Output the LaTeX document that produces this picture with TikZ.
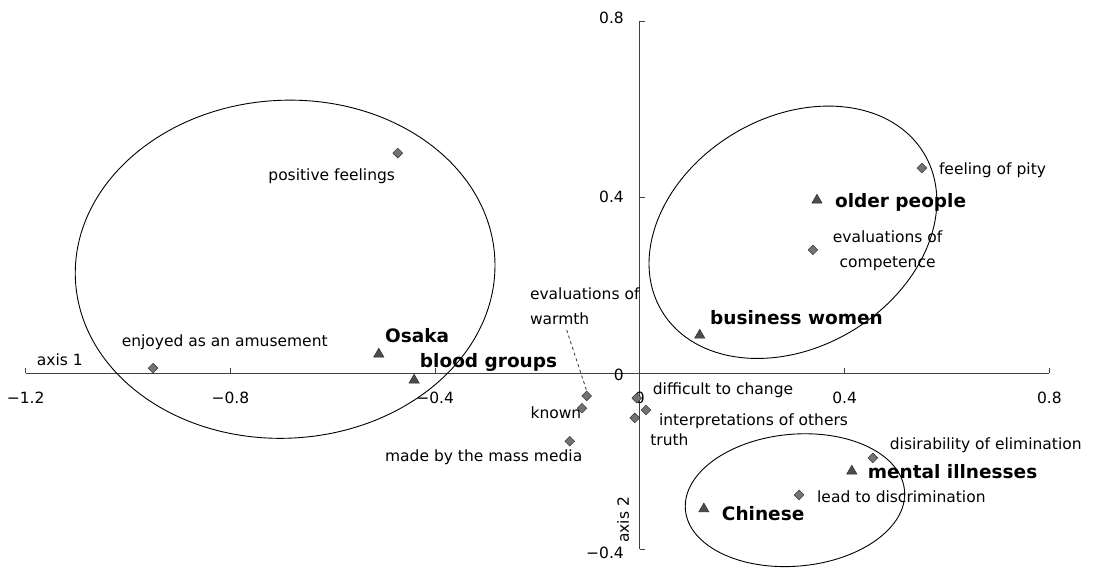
\documentclass[tikz,border=0pt]{standalone}
\usepackage{fontspec}
\setmainfont{DejaVu Sans}
\usetikzlibrary{shapes.geometric}

\begin{document}
\begin{tikzpicture}[x=512pt, y=440pt,
      axis/.style = {draw=black!75, line width=0.8pt},
      ring/.style = {draw=black, line width=0.9pt},
      item/.style = {shape=diamond, draw=black!85, fill=black!55,
        inner sep=0pt, minimum size=10pt},
      grp/.style = {shape=regular polygon, regular polygon sides=3,
        draw=black!85, fill=black!70, inner sep=0pt, minimum size=12pt},
      lbl/.style = {inner sep=0pt, font=\fontsize{15.5}{25}\selectfont},
      glbl/.style = {inner sep=0pt, anchor=west,
        font=\fontsize{18.5}{22}\selectfont\bfseries},
      num/.style = {inner sep=0pt, font=\fontsize{15.5}{18}\selectfont}]
  \useasboundingbox (-1.25,-0.457) rectangle (0.893,0.848);

  \draw[axis] (-1.2,0) -- (0.8,0);
  \draw[axis] (0,-0.4) -- (0,0.8);
  \foreach \x/\t [count=\i] in {-1.2/−1.2, -0.8/−0.8, -0.4/−0.4, 0/0, 0.4/0.4, 0.8/0.8} {
    \draw[axis] (\x,0) -- ++(0,5pt);
    \node[num] (xt\i) at (\x,-0.057) {\t};
  }
  \foreach \y/\ly/\t [count=\i] in {-0.4/-0.409/−0.4, 0/-0.005/0, 0.4/0.4/0.4, 0.8/0.807/0.8} {
    \draw[axis] (0,\y) -- ++(5pt,0);
    \node[num, anchor=east] (yt\i) at (-0.031,\ly) {\t};
  }
  \node[lbl] (ax1) at (-1.133,0.03) {axis 1};
  \node[lbl, rotate=90] (ax2) at (-0.033,-0.334) {axis 2};

  \coordinate (cleft) at (-0.693,0.236);
  \coordinate (cright) at (0.299,0.32);
  \coordinate (cbottom) at (0.303,-0.289);
  \draw[ring, rotate around={3:(cleft)}] (cleft) ellipse [x radius=210pt, y radius=169pt];
  \draw[ring, rotate around={31:(cright)}] (cright) ellipse [x radius=153pt, y radius=115pt];
  \draw[ring, rotate around={5:(cbottom)}] (cbottom) ellipse [x radius=110pt, y radius=66pt];

  \node[item] (amuse) at (-0.951,0.011) {};
  \node[item] (posfeel) at (-0.473,0.5) {};
  \node[item] (pity) at (0.551,0.466) {};
  \node[item] (compet) at (0.338,0.28) {};
  \node[item] (warmth) at (-0.104,-0.052) {};
  \node[item] (known) at (-0.113,-0.08) {};
  \node[item] (media) at (-0.137,-0.155) {};
  \node[item] (diffic) at (-0.006,-0.057) {};
  \node[item] (interp) at (0.012,-0.084) {};
  \node[item] (truth) at (-0.01,-0.102) {};
  \node[item] (elim) at (0.455,-0.193) {};
  \node[item] (discr) at (0.311,-0.277) {};

  \node[lbl] (amuseL) at (-0.811,0.07) {enjoyed as an amusement};
  \node[lbl] (posfeelL) at (-0.602,0.448) {positive feelings};
  \node[lbl, anchor=west] (pityL) at (0.584,0.461) {feeling of pity};
  \node[lbl, align=center] (competL) at (0.484,0.277) {evaluations of\\competence};
  \node[lbl, align=left, anchor=west] (warmthL) at (-0.215,0.153) {evaluations of\\warmth};
  \node[lbl] (knownL) at (-0.164,-0.091) {known};
  \node[lbl, anchor=west] (mediaL) at (-0.498,-0.191) {made by the mass media};
  \node[lbl, anchor=west] (difficL) at (0.025,-0.039) {difficult to change};
  \node[lbl, anchor=west] (interpL) at (0.037,-0.109) {interpretations of others};
  \node[lbl, anchor=west] (truthL) at (0.02,-0.152) {truth};
  \node[lbl, anchor=west] (elimL) at (0.488,-0.164) {disirability of elimination};
  \node[lbl, anchor=west] (discrL) at (0.346,-0.28) {lead to discrimination};

  \coordinate (wtip) at (-0.143,0.098);
  \draw[dashed, black!80, line width=0.8pt] (wtip) -- (warmth.north);

  \node[grp] (osaka) at (-0.51,0.043) {};
  \node[grp] (blood) at (-0.441,-0.016) {};
  \node[grp] (older) at (0.346,0.393) {};
  \node[grp] (business) at (0.117,0.086) {};
  \node[grp] (mental) at (0.414,-0.223) {};
  \node[grp] (chinese) at (0.125,-0.309) {};

  \node[glbl] (osakaL) at (-0.498,0.084) {Osaka};
  \node[glbl] (bloodL) at (-0.43,0.025) {blood groups};
  \node[glbl] (olderL) at (0.381,0.389) {older people};
  \node[glbl] (businessL) at (0.137,0.127) {business women};
  \node[glbl] (mentalL) at (0.445,-0.225) {mental illnesses};
  \node[glbl] (chineseL) at (0.16,-0.32) {Chinese};
\end{tikzpicture}
\end{document}
